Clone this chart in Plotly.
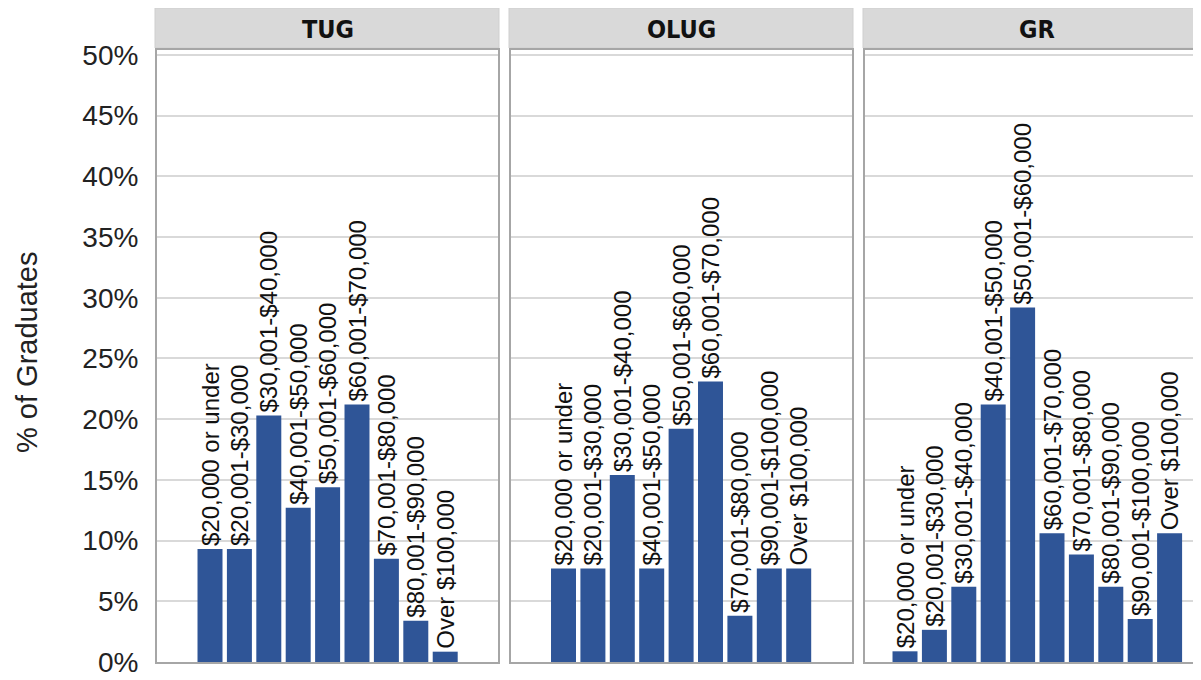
import plotly.graph_objects as go

# categories and % of graduates
tug_cats = ["$20,000 or under", "$20,001-$30,000", "$30,001-$40,000", "$40,001-$50,000",
            "$50,001-$60,000", "$60,001-$70,000", "$70,001-$80,000", "$80,001-$90,000",
            "Over $100,000"]
tug_vals = [9.3, 9.3, 20.3, 12.7, 14.4, 21.2, 8.5, 3.4, 0.85]

olug_cats = ["$20,000 or under", "$20,001-$30,000", "$30,001-$40,000", "$40,001-$50,000",
             "$50,001-$60,000", "$60,001-$70,000", "$70,001-$80,000", "$90,001-$100,000",
             "Over $100,000"]
olug_vals = [7.7, 7.7, 15.4, 7.7, 19.2, 23.1, 3.8, 7.7, 7.7]

gr_cats = ["$20,000 or under", "$20,001-$30,000", "$30,001-$40,000", "$40,001-$50,000",
           "$50,001-$60,000", "$60,001-$70,000", "$70,001-$80,000", "$80,001-$90,000",
           "$90,001-$100,000", "Over $100,000"]
gr_vals = [0.88, 2.65, 6.2, 21.2, 29.2, 10.6, 8.85, 6.2, 3.54, 10.6]

panels = ["TUG", "OLUG", "GR"]

# page offset: the html body has an 8px margin
OFF = 8
W, H = 1201 - OFF, 680 - OFF
FONT = "Liberation Sans, Arial, sans-serif"
BAR = "#2F5597"
FRAME = "#a6a6a6"
GRID = "#d9d9d9"

# pixel layout of the three facets (page coordinates)
px_x = [(157, 498), (511, 852), (865, 1201)]
plot_top, plot_bot = 50, 662
slot = 29.4  # px per category
first_center = [210, 563.5, 905]


def px(x):
    return (x - OFF) / W


def py(y):
    return 1 - (y - OFF) / H


fig = go.Figure()

data = [(tug_cats, tug_vals), (olug_cats, olug_vals), (gr_cats, gr_vals)]
for i, (cats, vals) in enumerate(data):
    n = i + 1
    fig.add_trace(go.Bar(
        x=cats, y=vals, text=cats,
        textposition="outside", textangle=-90, constraintext="none",
        textfont=dict(family=FONT, size=24, color="#111"),
        marker=dict(color=BAR, line=dict(width=0)),
        cliponaxis=False, showlegend=False,
        xaxis="x" if n == 1 else f"x{n}",
        yaxis="y" if n == 1 else f"y{n}",
    ))

layout = dict(
    width=W, height=H,
    margin=dict(l=0, r=0, t=0, b=0, pad=0),
    paper_bgcolor="white", plot_bgcolor="white",
    bargap=0.15,
    font=dict(family=FONT, color="#222"),
)

for i in range(3):
    n = "" if i == 0 else str(i + 1)
    x0, x1 = px_x[i]
    start = -(first_center[i] - x0) / slot
    end = start + (x1 - x0) / slot
    layout[f"xaxis{n}"] = dict(
        domain=[px(x0), min(px(x1), 1)], type="category", range=[start, end],
        showticklabels=False, showgrid=False, zeroline=False, automargin=False,
        showline=True, linecolor=FRAME, linewidth=2, mirror=True,
        anchor="y" if i == 0 else f"y{i + 1}",
    )
    layout[f"yaxis{n}"] = dict(
        domain=[py(plot_bot), py(plot_top)], range=[0, 50.4], dtick=5,
        ticksuffix="%", showticklabels=(i == 0), ticklabelstandoff=11,
        tickfont=dict(family=FONT, size=28, color="#222"), automargin=False,
        showgrid=True, gridcolor=GRID, gridwidth=1.5, zeroline=False,
        showline=True, linecolor=FRAME, linewidth=2, mirror=(i < 2),
        anchor="x" if i == 0 else f"x{i + 1}",
    )

fig.update_layout(**layout)

# facet header strips
for i, name in enumerate(panels):
    x0, x1 = px_x[i]
    fig.add_shape(type="rect", xref="paper", yref="paper",
                  x0=px(x0 - 2), x1=px(x1 + 1) if i < 2 else 1.01, y0=py(48), y1=py(8),
                  fillcolor="#d9d9d9", line=dict(color="#cfcfcf", width=1), layer="below")
    cx = (x0 + x1) / 2 if i < 2 else x0 + 172
    fig.add_annotation(x=px(cx), y=py(29), xref="paper", yref="paper",
                       xanchor="center", yanchor="middle",
                       text=f"<b>{name}</b>", showarrow=False,
                       font=dict(family="Liberation Sans Narrow, Arial Narrow, DejaVu Sans Condensed",
                                 size=25, color="#111"))

fig.add_annotation(x=px(27), y=py(352), xref="paper", yref="paper",
                   xanchor="center", yanchor="middle",
                   text="% of Graduates", textangle=-90, showarrow=False,
                   font=dict(family=FONT, size=29, color="#222"))

fig.write_html("out.html")
